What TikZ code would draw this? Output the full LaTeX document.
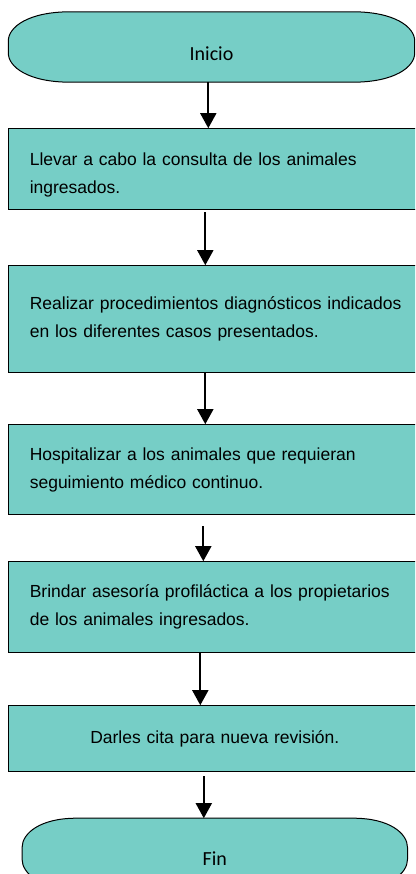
\documentclass[tikz,border=0pt]{standalone}
\usepackage{fontspec}
\setmainfont{Liberation Sans}
\newfontfamily\termfont{Carlito}
\usetikzlibrary{arrows.meta,positioning,backgrounds}
\definecolor{boxteal}{RGB}{118,206,198}

\begin{document}
\begin{tikzpicture}[x=1pt,y=1pt,
   proc/.style={draw,line width=1pt,fill=boxteal,rectangle,minimum width=440pt,
                text width=398pt,inner xsep=21pt,align=left,
                font=\fontsize{17.5}{28}\selectfont},
   term/.style={rectangle,minimum height=70pt,text depth=0pt,
                font=\termfont\fontsize{20}{24}\selectfont},
   termline/.style={draw,line width=1pt,fill=boxteal},
   arr/.style={-{Triangle[length=15pt,width=16pt]},line width=1.7pt}]
  \useasboundingbox (0,0) rectangle (415,-874);
  \clip (0,0) rectangle (415,-874);
  \node[term,minimum width=406pt,text height=28pt] (inicio) at (211.5,-47) {Inicio};
  \node[proc,minimum height=81pt,below=46pt of inicio.south west,anchor=north west] (cons)
     {\rule{0pt}{25pt}Llevar a cabo la consulta de los animales\\ingresados.};
  \node[proc,minimum height=107pt,below=55pt of cons.south west,anchor=north west] (diag)
     {Realizar procedimientos diagnósticos indicados\\en los diferentes casos presentados.};
  \node[proc,minimum height=90pt,below=51pt of diag.south west,anchor=north west] (hosp)
     {Hospitalizar a los animales que requieran\\seguimiento médico continuo.};
  \node[proc,minimum height=91pt,below=46pt of hosp.south west,anchor=north west] (ases)
     {Brindar asesoría profiláctica a los propietarios\\de los animales ingresados.};
  \node[proc,minimum height=66pt,minimum width=412pt,text width=370pt,align=center,
        below=52pt of ases.south west,anchor=north west] (cita)
     {Darles cita para nueva revisión.};
  \node[term,minimum width=385pt,text height=24pt,below=46pt of cita] (fin) {Fin};
  % terminal outlines
  \begin{scope}[on background layer]
    \draw[termline] ([xshift=62pt]inicio.north west) -- ([xshift=-62pt]inicio.north east)
       .. controls +(42,0) and +(0,14) .. ([yshift=6pt]inicio.east) -- ([yshift=-6pt]inicio.east)
       .. controls +(0,-14) and +(42,0) .. ([xshift=-62pt]inicio.south east)
       -- ([xshift=62pt]inicio.south west)
       .. controls +(-42,0) and +(0,-14) .. ([yshift=-6pt]inicio.west) -- ([yshift=6pt]inicio.west)
       .. controls +(0,14) and +(-42,0) .. cycle;
    \draw[termline] ([xshift=54pt]fin.north west) -- ([xshift=-54pt]fin.north east)
       .. controls +(36,0) and +(0,14) .. ([yshift=6pt]fin.east) -- ([yshift=-6pt]fin.east)
       .. controls +(0,-14) and +(36,0) .. ([xshift=-54pt]fin.south east)
       -- ([xshift=54pt]fin.south west)
       .. controls +(-36,0) and +(0,-14) .. ([yshift=-6pt]fin.west) -- ([yshift=6pt]fin.west)
       .. controls +(0,14) and +(-36,0) .. cycle;
  \end{scope}
  \draw[arr] ([xshift=200pt]inicio.south west) -- ([xshift=200pt]cons.north west);
  \draw[arr] ([xshift=197pt,yshift=-2pt]cons.south west) -- ([xshift=197pt]diag.north west);
  \draw[arr] ([xshift=197pt]diag.south west) -- ([xshift=197pt]hosp.north west);
  \draw[arr] ([xshift=195pt,yshift=-11pt]hosp.south west) -- ([xshift=195pt]ases.north west);
  \draw[arr] ([xshift=192pt]ases.south west) -- ([xshift=192pt]cita.north west);
  \draw[arr] ([xshift=-11pt,yshift=-4pt]cita.south) -- ([xshift=-11pt]fin.north);
\end{tikzpicture}
\end{document}
